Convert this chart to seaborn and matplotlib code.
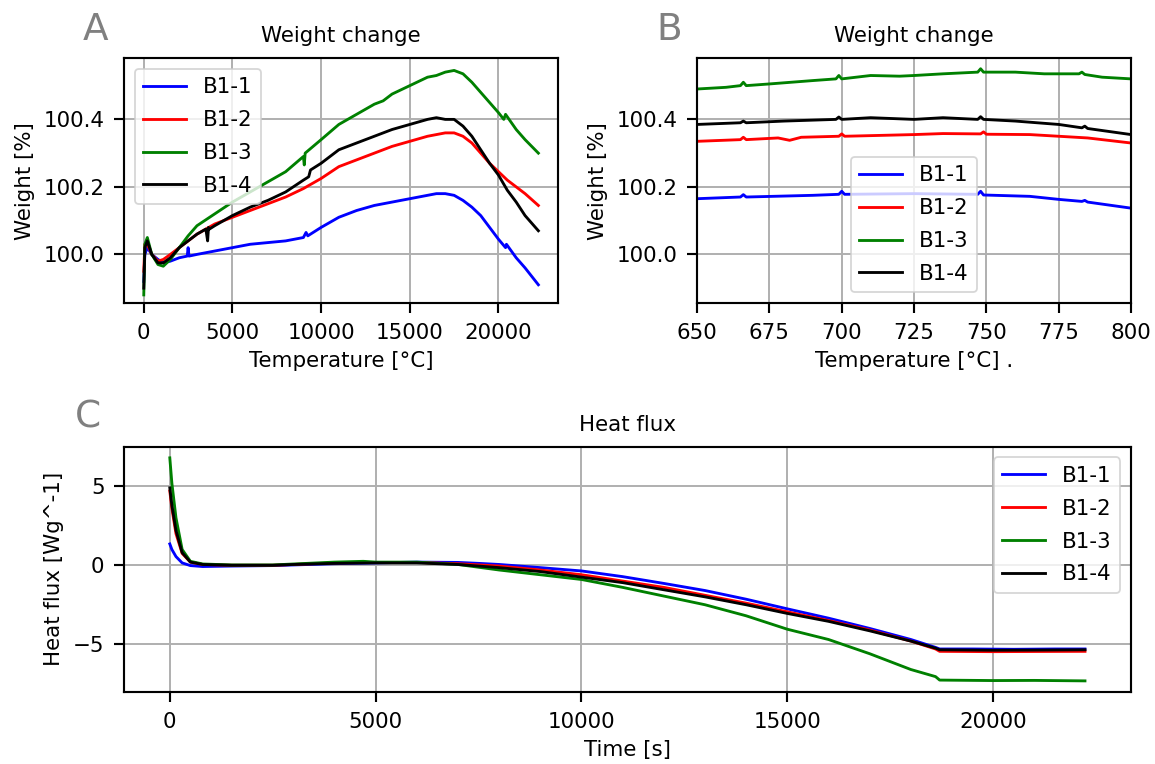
import matplotlib
matplotlib.use("Agg")
import matplotlib.pyplot as plt
from matplotlib.ticker import MultipleLocator
import seaborn as sns

# --- Panel A: weight change over the whole run ---
a_x_b11 = [0, 60, 200, 450, 800, 1100, 1500, 2000, 2450, 2500, 2550, 3000, 4000, 5000, 6000, 7000, 8000,
           9000, 9150, 9250, 10000, 11000, 12000, 13000, 14000, 15000, 16000, 16500, 17000, 17500, 18000,
           18500, 19000, 19500, 20000, 20400, 20450, 21000, 21500, 22250]
a_y_b11 = [99.92, 100.00, 100.02, 100.0, 99.985, 99.975, 99.98, 99.99, 99.995, 100.02, 99.995, 100.0, 100.01,
           100.02, 100.03, 100.035, 100.04, 100.05, 100.065, 100.055, 100.08, 100.11, 100.13, 100.145, 100.155,
           100.165, 100.175, 100.18, 100.18, 100.175, 100.16, 100.14, 100.115, 100.08, 100.045, 100.02, 100.03,
           99.99, 99.96, 99.91]

a_x_b12 = [0, 60, 200, 450, 800, 1100, 1500, 2000, 2500, 3000, 3500, 4000, 5000, 6000, 7000, 8000, 9000, 9500,
           10000, 11000, 12000, 13000, 14000, 15000, 16000, 16500, 17000, 17500, 18000, 18500, 19000, 19500,
           20000, 20500, 21000, 21500, 22250]
a_y_b12 = [99.95, 100.03, 100.03, 100.0, 99.98, 99.985, 100.0, 100.02, 100.04, 100.06, 100.075, 100.09, 100.11,
           100.13, 100.15, 100.17, 100.195, 100.21, 100.225, 100.26, 100.28, 100.3, 100.32, 100.335, 100.35,
           100.355, 100.36, 100.36, 100.35, 100.33, 100.3, 100.27, 100.245, 100.22, 100.2, 100.18, 100.145]

a_x_b13 = [0, 60, 200, 450, 800, 1100, 1500, 2000, 2500, 3000, 4000, 5000, 6000, 7000, 8000, 9000, 9050, 9100,
           10000, 11000, 12000, 13000, 13500, 14000, 15000, 16000, 16500, 17000, 17500, 18000, 18500, 19000,
           19500, 20000, 20300, 20400, 21000, 21500, 22250]
a_y_b13 = [99.88, 100.03, 100.05, 100.0, 99.97, 99.965, 99.985, 100.02, 100.055, 100.085, 100.12, 100.155,
           100.185, 100.215, 100.245, 100.29, 100.265, 100.30, 100.34, 100.385, 100.415, 100.445, 100.455,
           100.475, 100.50, 100.525, 100.53, 100.54, 100.545, 100.535, 100.51, 100.48, 100.45, 100.42, 100.40,
           100.415, 100.37, 100.34, 100.30]

a_x_b14 = [0, 60, 200, 450, 800, 1100, 1500, 2000, 2500, 3000, 3500, 3600, 3650, 3700, 4000, 5000, 6000, 7000,
           8000, 9000, 9300, 9400, 10000, 11000, 12000, 13000, 14000, 15000, 16000, 16500, 17000, 17500, 18000,
           18500, 19000, 19500, 20000, 20500, 21000, 21500, 22250]
a_y_b14 = [99.9, 100.02, 100.04, 100.0, 99.975, 99.975, 99.99, 100.02, 100.04, 100.06, 100.075, 100.04, 100.08,
           100.075, 100.085, 100.115, 100.14, 100.16, 100.185, 100.22, 100.23, 100.25, 100.27, 100.31, 100.33,
           100.35, 100.37, 100.385, 100.40, 100.405, 100.40, 100.40, 100.38, 100.35, 100.31, 100.27, 100.235,
           100.19, 100.155, 100.115, 100.07]

# --- Panel B: weight change, 650-800 °C window ---
b_x_b11 = [650, 665, 666, 667, 690, 699, 700, 701, 725, 747, 748, 749, 765, 775, 783, 784, 785, 800]
b_y_b11 = [100.165, 100.17, 100.177, 100.17, 100.175, 100.178, 100.187, 100.178, 100.18, 100.178, 100.187,
           100.176, 100.172, 100.163, 100.157, 100.16, 100.155, 100.137]

b_x_b12 = [650, 665, 666, 667, 678, 682, 686, 699, 700, 701, 725, 735, 748, 749, 750, 765, 775, 785, 800]
b_y_b12 = [100.335, 100.34, 100.347, 100.34, 100.345, 100.338, 100.347, 100.35, 100.357, 100.35, 100.355,
           100.358, 100.357, 100.363, 100.356, 100.355, 100.35, 100.345, 100.33]

b_x_b13 = [650, 660, 665, 666, 667, 675, 690, 698, 699, 700, 710, 720, 725, 735, 747, 748, 749, 760, 770, 782,
           783, 784, 790, 800]
b_y_b13 = [100.49, 100.495, 100.50, 100.51, 100.50, 100.505, 100.515, 100.52, 100.53, 100.52, 100.53, 100.528,
           100.53, 100.535, 100.54, 100.55, 100.54, 100.54, 100.535, 100.535, 100.54, 100.533, 100.525, 100.52]

b_x_b14 = [650, 665, 666, 667, 680, 698, 699, 700, 710, 725, 735, 747, 748, 749, 760, 775, 783, 784, 785, 800]
b_y_b14 = [100.385, 100.39, 100.395, 100.39, 100.395, 100.40, 100.407, 100.40, 100.405, 100.40, 100.405, 100.40,
           100.408, 100.40, 100.395, 100.385, 100.375, 100.38, 100.373, 100.355]

# --- Panel C: heat flux vs time ---
c_x_b11 = [0, 50, 150, 300, 500, 800, 1500, 2500, 3000, 4000, 5000, 6000, 7000, 7500, 8000, 9000, 10000, 11000,
           12000, 13000, 14000, 15000, 16000, 17000, 18000, 18600, 18700, 19500, 20500, 21500, 22230]
c_y_b11 = [1.35, 1.0, 0.55, 0.15, -0.02, -0.08, -0.05, -0.02, 0.02, 0.1, 0.15, 0.2, 0.18, 0.12, 0.05, -0.15,
           -0.36, -0.72, -1.15, -1.6, -2.15, -2.76, -3.35, -4.0, -4.7, -5.2, -5.3, -5.3, -5.32, -5.3, -5.3]

c_x_b12 = [0, 50, 150, 300, 500, 800, 1500, 2500, 3000, 4000, 5000, 6000, 7000, 8000, 9000, 10000, 11000, 12000,
           13000, 14000, 15000, 16000, 17000, 18000, 18600, 18700, 20000, 21000, 22230]
c_y_b12 = [4.7, 3.6, 2.0, 0.75, 0.2, 0.05, 0.0, 0.0, 0.05, 0.15, 0.18, 0.18, 0.1, -0.05, -0.3, -0.6, -1.0, -1.4,
           -1.9, -2.4, -2.95, -3.5, -4.1, -4.8, -5.3, -5.45, -5.47, -5.46, -5.45]

c_x_b13 = [0, 50, 150, 300, 500, 800, 1500, 2500, 3000, 4000, 4700, 5000, 6000, 7000, 8000, 9000, 10000, 11000,
           12000, 13000, 14000, 15000, 16000, 17000, 18000, 18600, 18700, 20000, 21000, 22230]
c_y_b13 = [6.8, 5.2, 3.0, 1.0, 0.25, 0.08, 0.02, 0.02, 0.08, 0.2, 0.25, 0.2, 0.2, 0.05, -0.3, -0.6, -0.9, -1.4,
           -1.95, -2.5, -3.2, -4.05, -4.7, -5.6, -6.6, -7.05, -7.27, -7.3, -7.29, -7.32]

c_x_b14 = [0, 50, 150, 300, 500, 800, 1500, 2500, 3000, 4000, 5000, 6000, 7000, 8000, 9000, 10000, 11000, 12000,
           13000, 14000, 15000, 16000, 17000, 18000, 18600, 18700, 20000, 21000, 22230]
c_y_b14 = [4.9, 3.8, 2.2, 0.8, 0.2, 0.05, 0.0, 0.0, 0.05, 0.12, 0.15, 0.15, 0.05, -0.15, -0.4, -0.75, -1.1, -1.55,
           -2.0, -2.5, -3.05, -3.55, -4.15, -4.8, -5.25, -5.35, -5.38, -5.37, -5.35]

labels = ["B1-1", "B1-2", "B1-3", "B1-4"]
colors = ["b", "r", "g", "k"]

plt.rcParams["font.family"] = ["DejaVu Sans"]
plt.rcParams["font.size"] = 12
plt.rcParams["axes.linewidth"] = 1.2

DPI = 128
fig = plt.figure(figsize=(1155 / DPI, 764 / DPI), dpi=DPI)
ax_a = fig.add_axes([0.1074, 0.6034, 0.3758, 0.3203])
ax_b = fig.add_axes([0.6035, 0.6034, 0.3758, 0.3203])
ax_c = fig.add_axes([0.1074, 0.0942, 0.8716, 0.3211])


def draw(ax, series):
    for (xs, ys), lab, col in zip(series, labels, colors):
        sns.lineplot(x=xs, y=ys, ax=ax, color=col, label=lab, lw=1.6,
                     estimator=None, sort=False)


draw(ax_a, [(a_x_b11, a_y_b11), (a_x_b12, a_y_b12), (a_x_b13, a_y_b13), (a_x_b14, a_y_b14)])
draw(ax_b, [(b_x_b11, b_y_b11), (b_x_b12, b_y_b12), (b_x_b13, b_y_b13), (b_x_b14, b_y_b14)])
draw(ax_c, [(c_x_b11, c_y_b11), (c_x_b12, c_y_b12), (c_x_b13, c_y_b13), (c_x_b14, c_y_b14)])

ax_a.set_ylim(99.856, 100.581)
ax_b.set_ylim(ax_a.get_ylim())
ax_b.set_xlim(650, 800)
ax_b.xaxis.set_major_locator(MultipleLocator(25))
ax_a.set_yticks([100.0, 100.2, 100.4])
ax_b.set_yticks([100.0, 100.2, 100.4])
ax_c.set_yticks([-5, 0, 5])

ax_a.set_title("Weight change", fontsize=12, pad=9)
ax_a.set_xlabel("Temperature [°C]", labelpad=5)
ax_a.set_ylabel("Weight [%]", labelpad=5)
ax_b.set_title("Weight change", fontsize=12, pad=9)
ax_b.set_xlabel("Temperature [°C] .", labelpad=5)
ax_b.set_ylabel("Weight [%]", labelpad=5)
ax_c.set_title("Heat flux", fontsize=12, pad=9)
ax_c.set_xlabel("Time [s]", labelpad=5)
ax_c.set_ylabel("Heat flux [Wg^-1]", labelpad=5)

for ax in (ax_a, ax_b, ax_c):
    ax.grid(True, color="#b0b0b0", lw=1.1)
    ax.set_axisbelow(True)
    ax.tick_params(width=1.2, length=5.5, pad=5.5)

ax_a.legend(loc="upper left", fontsize=12, labelspacing=0.6)
ax_b.legend(loc="lower center", fontsize=12, labelspacing=0.6)
ax_c.legend(loc="upper right", fontsize=12, labelspacing=0.6)

# panel letters
fig.text(83 / 1155, 1 - 40 / 764, "A", fontsize=21, color="gray", va="baseline")
fig.text(656 / 1155, 1 - 40 / 764, "B", fontsize=21, color="gray", va="baseline")
fig.text(75 / 1155, 1 - 428 / 764, "C", fontsize=21, color="gray", va="baseline")

fig.savefig("out.png", dpi=DPI)
